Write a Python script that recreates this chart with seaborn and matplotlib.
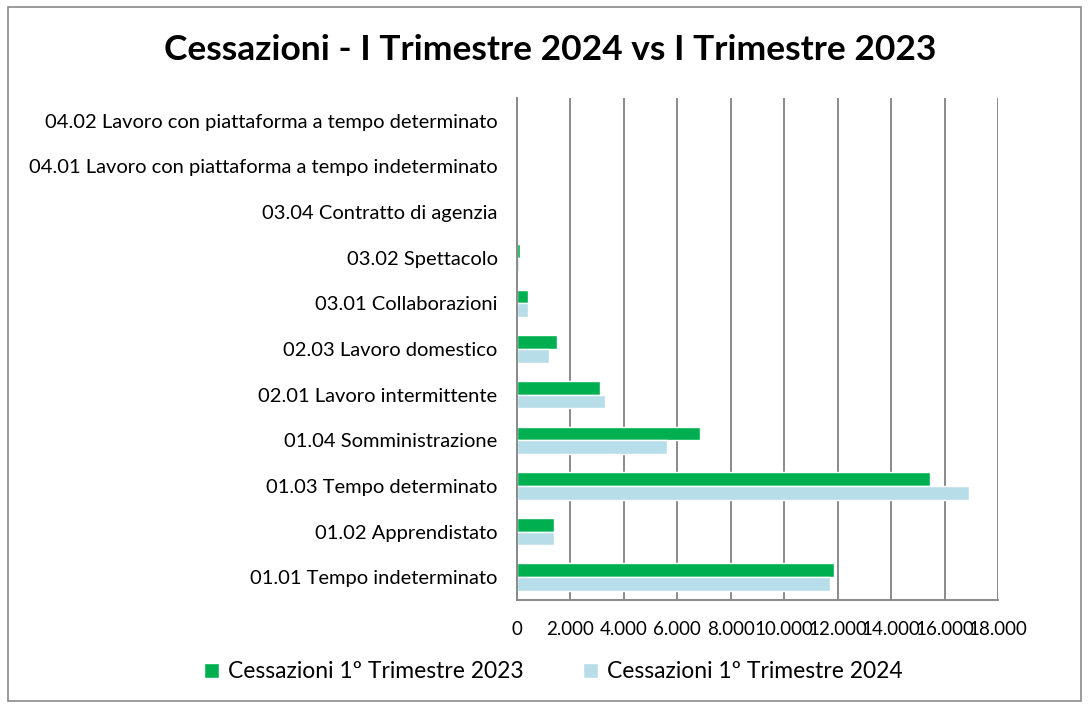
import pandas as pd
import numpy as np
import matplotlib.pyplot as plt
import seaborn as sns
from matplotlib.patches import Rectangle, Patch
from matplotlib.ticker import FuncFormatter, FixedLocator

# Data
categories = [
    '04.02 Lavoro con piattaforma a tempo determinato',
    '04.01 Lavoro con piattaforma a tempo indeterminato',
    '03.04 Contratto di agenzia',
    '03.02 Spettacolo',
    '03.01 Collaborazioni',
    '02.03 Lavoro domestico',
    '02.01 Lavoro intermittente',
    '01.04 Somministrazione',
    '01.03 Tempo determinato',
    '01.02 Apprendistato',
    '01.01 Tempo indeterminato',
]
cess_2023 = [0, 0, 0, 100, 400, 1510, 3100, 6860, 15450, 1380, 11870]
cess_2024 = [0, 0, 0, 80, 400, 1190, 3280, 5630, 16910, 1370, 11720]
series = ['Cessazioni 1º Trimestre 2023', 'Cessazioni 1º Trimestre 2024']
colors = ['#00B050', '#B7DEE8']
x_ticks = list(range(0, 18001, 2000))

df = pd.DataFrame({
    'categoria': categories * 2,
    'valore': cess_2023 + cess_2024,
    'serie': [series[0]] * len(categories) + [series[1]] * len(categories),
})

sns.set_style('white')
plt.rcParams['font.family'] = ['Lato', 'DejaVu Sans']
plt.rcParams['text.color'] = 'black'
plt.rcParams['xtick.labelcolor'] = 'black'
plt.rcParams['ytick.labelcolor'] = 'black'

fig = plt.figure(figsize=(10.89, 7.05), dpi=100)
ax = fig.add_axes([0.4747, 0.149, 0.4418, 0.712])

sns.barplot(data=df, y='categoria', x='valore', hue='serie', order=categories,
            hue_order=series, palette=colors, orient='h', width=0.6,
            saturation=1, ax=ax, legend=False)

ax.set_xlim(0, 18000)
ax.set_ylim(len(categories) - 0.5, -0.5)
ax.xaxis.set_major_locator(FixedLocator(x_ticks))
ax.xaxis.set_major_formatter(FuncFormatter(lambda v, p: f'{int(v):,}'.replace(',', '.')))
ax.grid(axis='x', color='#8a8a8a', linewidth=1.4)
ax.set_axisbelow(True)
ax.set_xlabel('')
ax.set_ylabel('')

for s in ['top', 'right']:
    ax.spines[s].set_visible(False)
for s in ['left', 'bottom']:
    ax.spines[s].set_color('#8a8a8a')
    ax.spines[s].set_linewidth(1.4)

ax.tick_params(axis='x', length=5, color='#8a8a8a', width=1.2, labelsize=13.5, pad=10)
ax.tick_params(axis='y', which='major', length=0, labelsize=14.5, pad=14)
ax.yaxis.set_minor_locator(FixedLocator(np.arange(-0.5, len(categories), 1)))
ax.tick_params(axis='y', which='minor', length=5, color='#8a8a8a', width=1.2)

fig.suptitle('Cessazioni - I Trimestre 2024 vs I Trimestre 2023', x=0.505, y=0.952,
             fontsize=25.5, fontweight='bold')

handles = [Patch(facecolor=c, label=s) for c, s in zip(colors, series)]
fig.legend(handles=handles, loc='center', bbox_to_anchor=(0.508, 0.047), ncol=2,
           frameon=False, fontsize=16.5, handlelength=0.65, handleheight=0.65,
           handletextpad=0.4, columnspacing=2.6)

fig.patches.append(Rectangle((0.007, 0.006), 0.986, 0.984, transform=fig.transFigure,
                             fill=False, edgecolor='#8a8a8a', linewidth=1.2))

fig.savefig('out.png', dpi=100)
